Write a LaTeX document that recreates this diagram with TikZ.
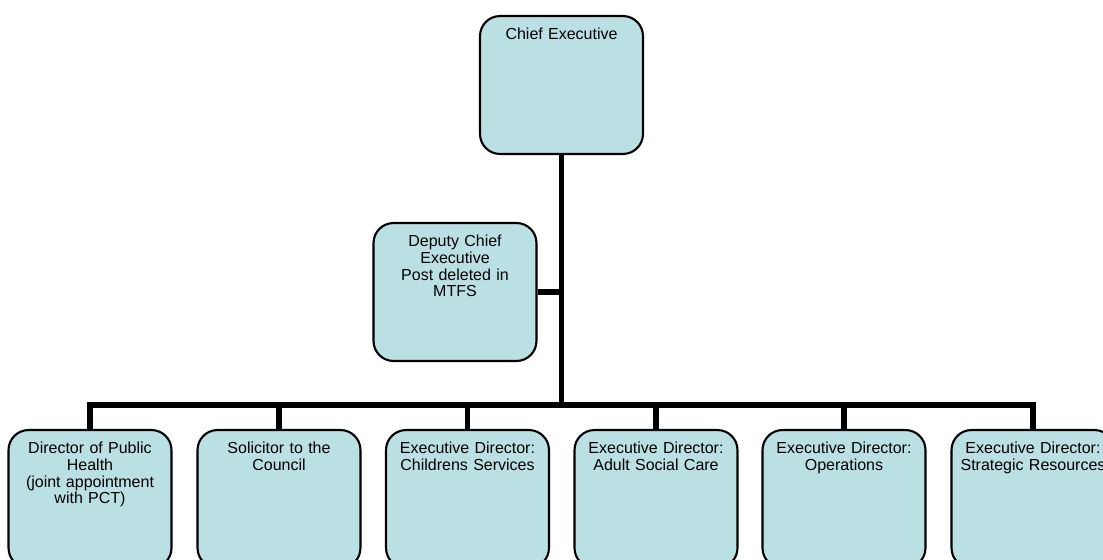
\documentclass[tikz,border=0pt]{standalone}
\usepackage{fontspec}
\setmainfont{Liberation Sans}
\usepackage{tikz}
\definecolor{postblue}{RGB}{187,224,227}
\tikzset{
	post/.style={draw, line width=1.2pt, fill=postblue, rounded corners=0.4cm, anchor=north,
		minimum width=3.26cm, text width=3.0cm, align=center, inner sep=3pt,
		text height=10.5pt, text depth=62pt, font=\fontsize{9.1}{9.5}\selectfont},
	link/.style={line width=3.4pt}
}

\begin{document}
\begin{tikzpicture}[x=0.02cm,y=-0.02cm]
		\useasboundingbox (0,0) rectangle (1103,560);
		\node[post] (chief) at (561.5,15) {Chief Executive};
		\node[post] (deputy) at (455,222) {Deputy Chief\\Executive\\Post deleted in\\MTFS};
		\coordinate (bus) at (561,405);
		\node[post] (health) at (90,429) {Director of Public\\Health\\(joint appointment\\with PCT)};
		\node[post] (solicitor) at (279,429) {Solicitor to the\\Council};
		\node[post] (children) at (467.5,429) {Executive Director:\\Childrens Services};
		\node[post] (adult) at (656,429) {Executive Director:\\Adult Social Care};
		\node[post] (operations) at (844,429) {Executive Director:\\Operations};
		\node[post] (resources) at (1033,429) {Executive Director:\\Strategic Resources};
		\draw[link] (chief.south) to (chief.south |- bus);
		\draw[link] (deputy.east) to (deputy.east -| chief.south);
		\draw[link] (health.north) -- (health.north |- bus) -- (resources.north |- bus) -- (resources.north);
		\draw[link] (solicitor.north) to (solicitor.north |- bus);
		\draw[link] (children.north) to (children.north |- bus);
		\draw[link] (adult.north) to (adult.north |- bus);
		\draw[link] (operations.north) to (operations.north |- bus);
	\end{tikzpicture}
\end{document}
